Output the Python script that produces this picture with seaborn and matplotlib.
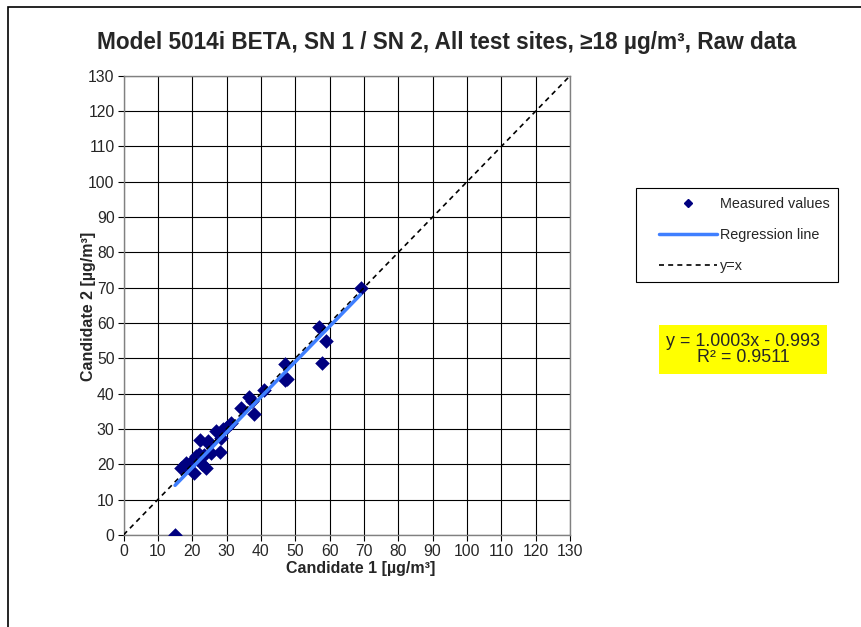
import numpy as np
import pandas as pd
import matplotlib
matplotlib.use("Agg")
import matplotlib.pyplot as plt
import seaborn as sns
from matplotlib.patches import Rectangle
from matplotlib.lines import Line2D

cand1 = [15.0, 16.8, 17.5, 18.2, 19.0, 20.0, 20.5, 21.0, 21.5, 22.0, 22.4, 22.8,
         23.5, 24.0, 24.5, 24.8, 25.5, 27.0, 28.0, 28.3, 29.0, 30.0, 31.4, 34.3,
         36.5, 37.5, 38.0, 40.8, 47.0, 47.0, 47.7, 56.9, 57.8, 59.0, 69.0]
cand2 = [0.0, 18.9, 19.5, 20.3, 19.8, 21.0, 17.6, 22.4, 21.5, 23.0, 27.0, 20.0,
         22.5, 18.8, 26.7, 25.8, 23.2, 29.5, 23.5, 27.5, 30.0, 30.5, 31.6, 36.0,
         38.9, 37.8, 34.3, 41.1, 48.4, 43.8, 44.0, 59.0, 48.6, 55.0, 70.0]

slope = 1.0003
intercept = -0.993
r_squared = 0.9511

ticks = list(range(0, 131, 10))

df = pd.DataFrame({"c1": cand1, "c2": cand2})

sns.set_style("white")
plt.rcParams["font.family"] = ["Liberation Sans", "DejaVu Sans"]

W, H = 861, 627
fig = plt.figure(figsize=(W / 100, H / 100), dpi=100)
ax = fig.add_axes([0.1435, 0.147, 0.5185, 0.732])

# outer chart border (runs off the right/bottom edge like the source)
fig.patches.append(Rectangle((8 / W, -0.1), 1.2, 1.1 - 7 / H,
                             transform=fig.transFigure, fill=False,
                             edgecolor="black", linewidth=1.2, zorder=0))

ax.set_xlim(0, 130)
ax.set_ylim(0, 130)
ax.set_xticks(ticks)
ax.set_yticks(ticks)
ax.grid(True, color="black", linewidth=0.8)
ax.set_axisbelow(True)

sns.scatterplot(data=df, x="c1", y="c2", ax=ax, marker="D", s=55,
                color="#000080", edgecolor="#000080", linewidth=0, zorder=3)

# y = x reference
ax.plot([0, 130], [0, 130], color="black", linestyle=(0, (3, 2.5)), linewidth=1.2, zorder=4)

# regression line over the data range
xr = np.array([min(cand1), max(cand1)])
ax.plot(xr, slope * xr + intercept, color="#3F7FFF", linewidth=2.5, zorder=5)

for sp in ax.spines.values():
    sp.set_color("#808080")
    sp.set_linewidth(1.0)

ax.tick_params(axis="both", direction="out", length=4, width=0.8,
               color="black", labelsize=11.3, pad=2.5, left=True, bottom=True)
ax.set_xlabel("")
ax.set_ylabel("")

fig.text(361 / W, 1 - 569 / H, "Candidate 1 [µg/m³]", ha="center", va="center",
         fontsize=11.5, fontweight="bold")
fig.text(88 / W, 1 - 306 / H, "Candidate 2 [µg/m³]", ha="center", va="center",
         fontsize=11.5, fontweight="bold", rotation=90)

fig.text(447 / W, 1 - 42 / H, "Model 5014i BETA, SN 1 / SN 2, All test sites, ≥18 µg/m³, Raw data",
         ha="center", va="center", fontsize=16.3, fontweight="bold")

# legend box drawn separately to match its padding
fig.patches.append(Rectangle((636 / W, 1 - 282 / H), 202 / W, 94 / H,
                             transform=fig.transFigure, fill=False,
                             edgecolor="black", linewidth=0.8, zorder=1))
handles = [
    Line2D([], [], marker="D", color="#000080", linestyle="none", markersize=4.5),
    Line2D([], [], color="#3F7FFF", linewidth=2.5),
    Line2D([], [], color="black", linestyle=(0, (3, 2.5)), linewidth=1.2),
]
labels = ["Measured values", "Regression line", "y=x"]
fig.legend(handles, labels, loc="center left",
           bbox_to_anchor=(659 / W, 1 - 235 / H), bbox_transform=fig.transFigure,
           frameon=False, fontsize=10.4, handlelength=4.0,
           labelspacing=1.15, borderpad=0, handletextpad=0.25, borderaxespad=0)

fig.text(743 / W, 1 - 349.5 / H,
         f"y = {slope:.4f}x - {abs(intercept):.3f}\nR² = {r_squared:.4f}",
         ha="center", va="center", fontsize=12.9, linespacing=1.0,
         bbox=dict(boxstyle="square,pad=0.4", facecolor="#FFFF00", edgecolor="none"))

fig.savefig("out.png", dpi=100)
